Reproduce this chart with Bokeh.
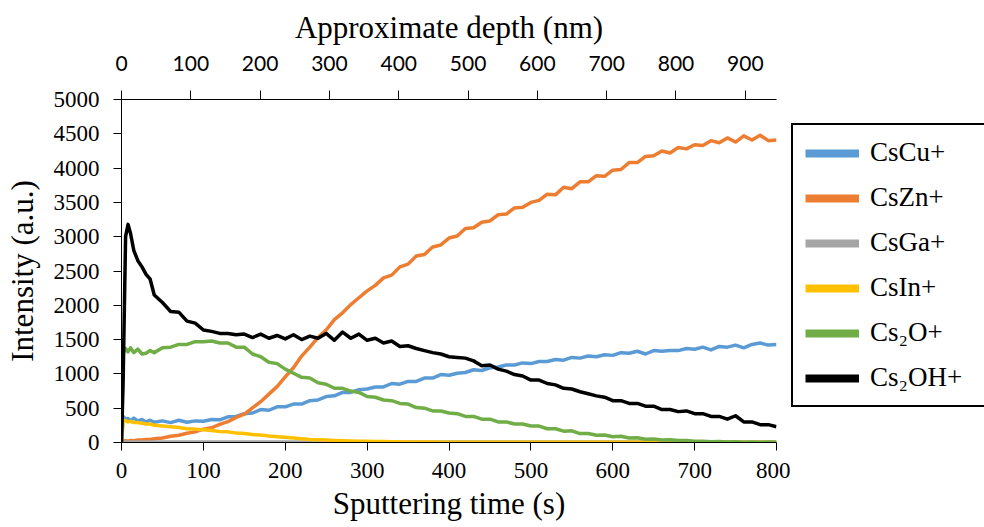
from bokeh.plotting import figure
from bokeh.layouts import row
from bokeh.models import Range1d, LinearAxis, FixedTicker, Legend, LegendItem
from bokeh.embed import file_html
from bokeh.resources import INLINE

# ---------------- data ----------------
time_s = [0, 2, 5, 8, 11, 15, 20, 25, 30, 35, 40,
          50, 60, 70, 80, 90, 100, 110, 120, 130, 140, 150, 160, 170, 180, 190,
          200, 210, 220, 230, 240, 250, 260, 270, 280, 290, 300, 310, 320, 330,
          340, 350, 360, 370, 380, 390, 400, 410, 420, 430, 440, 450, 460, 470,
          480, 490, 500, 510, 520, 530, 540, 550, 560, 570, 580, 590, 600, 610,
          620, 630, 640, 650, 660, 670, 680, 690, 700, 710, 720, 730, 740, 750,
          760, 770, 780, 790, 800]

cs_cu = [0, 380, 340, 350, 320, 355, 315, 335, 300, 325, 295,
         315, 290, 325, 295, 315, 310, 335, 330, 375, 380, 420, 430, 480, 470, 520,
         520, 560, 560, 610, 620, 670, 680, 730, 730, 770, 780, 810, 810, 860,
         850, 890, 890, 940, 940, 990, 980, 1010, 1020, 1060, 1050, 1090, 1100, 1130,
         1130, 1160, 1150, 1180, 1180, 1210, 1200, 1240, 1230, 1260, 1250, 1280, 1270, 1310,
         1300, 1330, 1290, 1340, 1330, 1340, 1340, 1370, 1360, 1390, 1350, 1400, 1390, 1420,
         1380, 1430, 1450, 1420, 1430]

cs_zn = [20, 15, 25, 20, 30, 25, 35, 35, 45, 45, 55,
         65, 90, 105, 135, 155, 195, 215, 265, 305, 365, 415, 505, 595, 705, 815,
         955, 1090, 1260, 1390, 1530, 1640, 1790, 1890, 2010, 2110, 2210, 2290, 2400, 2440,
         2560, 2600, 2720, 2740, 2850, 2880, 2980, 3010, 3120, 3130, 3210, 3230, 3320, 3330,
         3420, 3430, 3500, 3530, 3620, 3610, 3720, 3700, 3800, 3800, 3890, 3880, 3970, 3980,
         4080, 4080, 4170, 4180, 4250, 4220, 4300, 4280, 4340, 4330, 4400, 4370, 4440, 4380,
         4470, 4410, 4480, 4400, 4410]

cs_ga = [0, 8, 8, 8, 8, 8, 8, 8, 8, 8, 8,
         8, 8, 8, 8, 8, 8, 8, 8, 8, 8, 8, 8, 8, 8, 8,
         8, 8, 8, 8, 8, 8, 8, 8, 8, 8, 8, 8, 8, 8,
         8, 8, 8, 8, 8, 8, 8, 8, 8, 8, 8, 8, 8, 8,
         8, 8, 8, 8, 8, 8, 8, 8, 8, 8, 8, 8, 8, 8,
         8, 8, 8, 8, 8, 8, 8, 8, 8, 8, 8, 8, 8, 8,
         8, 8, 8, 8, 8]

cs_in = [0, 310, 320, 300, 310, 290, 290, 280, 270, 270, 250,
         240, 230, 220, 200, 195, 185, 175, 160, 155, 140, 130, 115, 110, 95, 85,
         75, 65, 55, 45, 40, 35, 30, 25, 22, 20, 18, 16, 14, 12,
         10, 9, 8, 7, 6, 5, 5, 4, 4, 4, 3, 3, 3, 3,
         3, 3, 3, 3, 3, 3, 3, 3, 3, 3, 3, 3, 3, 3,
         3, 3, 3, 3, 3, 3, 3, 3, 3, 3, 3, 3, 3, 3,
         3, 3, 3, 3, 3]

cs2_o = [0, 1300, 1370, 1320, 1380, 1310, 1360, 1290, 1300, 1340, 1310,
         1380, 1390, 1430, 1430, 1470, 1470, 1480, 1450, 1450, 1390, 1390, 1290, 1250, 1170, 1150,
         1070, 1010, 950, 940, 870, 850, 790, 790, 750, 730, 670, 660, 620, 610,
         570, 560, 510, 500, 460, 460, 430, 420, 380, 380, 340, 340, 300, 300,
         270, 270, 240, 240, 200, 200, 165, 170, 130, 130, 105, 110, 85, 90,
         65, 70, 48, 52, 38, 40, 28, 30, 18, 20, 12, 14, 8, 10,
         5, 7, 4, 6, 5]

cs2_oh = [0, 900, 3000, 3180, 3050, 2800, 2650, 2560, 2450, 2380, 2150,
          2040, 1910, 1900, 1770, 1740, 1640, 1620, 1590, 1590, 1570, 1580, 1530, 1580, 1520, 1560,
          1510, 1570, 1500, 1550, 1520, 1590, 1490, 1610, 1520, 1580, 1490, 1520, 1450, 1480,
          1400, 1410, 1370, 1340, 1310, 1290, 1250, 1240, 1230, 1190, 1120, 1130, 1070, 1040,
          990, 970, 910, 910, 860, 840, 790, 780, 740, 710, 680, 660, 610, 610,
          570, 570, 530, 530, 480, 480, 450, 460, 420, 420, 380, 380, 340, 390,
          300, 300, 260, 260, 230]

depth_ticks = [0, 100, 200, 300, 400, 500, 600, 700, 800, 900]
time_ticks = [0, 100, 200, 300, 400, 500, 600, 700, 800]
intensity_ticks = [0, 500, 1000, 1500, 2000, 2500, 3000, 3500, 4000, 4500, 5000]

series_names = ["CsCu+", "CsZn+", "CsGa+", "CsIn+", "Cs\u2082O+", "Cs\u2082OH+"]
series_values = [cs_cu, cs_zn, cs_ga, cs_in, cs2_o, cs2_oh]
series_colors = ["#5B9BD5", "#ED7D31", "#A5A5A5", "#FFC000", "#70AD47", "#000000"]

SERIF = "Liberation Serif"
TICK_SERIF = "'Liberation Serif', 'Times New Roman', serif"

p = figure(width=790, height=527, output_backend="svg", toolbar_location=None,
           x_range=Range1d(0, 800), y_range=Range1d(0, 5000),
           min_border_left=121, min_border_right=14,
           min_border_top=99, min_border_bottom=85)
p.extra_x_ranges = {"depth": Range1d(0, 945)}
p.outline_line_color = None
p.xgrid.visible = False
p.ygrid.visible = False
p.background_fill_color = "white"
p.border_fill_color = "white"

def style_axis(ax, font, size):
    ax.axis_line_color = "black"
    ax.axis_line_width = 1
    ax.major_tick_line_color = "black"
    ax.major_tick_out = 8
    ax.major_tick_in = 0
    ax.minor_tick_line_color = None
    ax.major_label_text_font = font
    ax.major_label_text_font_size = size
    ax.major_label_text_color = "black"
    ax.axis_label_text_font = SERIF
    ax.axis_label_text_font_style = "normal"
    ax.axis_label_text_font_size = "31px"
    ax.axis_label_text_color = "black"

xax = p.xaxis[0]
style_axis(xax, TICK_SERIF, "23px")
xax.ticker = FixedTicker(ticks=time_ticks)
xax.major_label_standoff = 12
xax.axis_label = "Sputtering time (s)"
xax.axis_label_standoff = 5

yax = p.yaxis[0]
style_axis(yax, TICK_SERIF, "23px")
yax.ticker = FixedTicker(ticks=intensity_ticks)
yax.major_label_standoff = 14
yax.axis_label = "Intensity (a.u.)"
yax.axis_label_standoff = 11

top = LinearAxis(x_range_name="depth")
style_axis(top, "Lato", "21px")
top.ticker = FixedTicker(ticks=depth_ticks)
top.major_tick_out = 9
top.major_label_standoff = 20
top.axis_label = "Approximate depth (nm)"
top.axis_label_standoff = 8
p.add_layout(top, "above")

for vals, col in zip(series_values, series_colors):
    p.line(time_s, vals, line_color=col, line_width=3.5, line_join="round")

# ---------------- legend in its own panel to the right ----------------
lf = figure(width=194, height=527, output_backend="svg", toolbar_location=None,
            x_range=Range1d(0, 1), y_range=Range1d(0, 1),
            x_axis_type=None, y_axis_type=None,
            min_border_left=0, min_border_right=0, min_border_top=0, min_border_bottom=0)
lf.outline_line_color = None
lf.xgrid.visible = False
lf.ygrid.visible = False
lf.background_fill_color = "white"
lf.border_fill_color = "white"

items = []
for name, col in zip(series_names, series_colors):
    r = lf.line(x=[float("nan")], y=[float("nan")], line_color=col, line_width=8)
    items.append(LegendItem(label=name, renderers=[r]))

legend = Legend(items=items, location=(1, 35), margin=0, padding=12,
                spacing=14, glyph_width=54, glyph_height=30, label_height=30,
                label_width=102, label_standoff=11, label_text_font=SERIF,
                label_text_font_size="27px", label_text_color="black",
                border_line_color="black", border_line_width=2,
                border_line_alpha=1.0,
                background_fill_color="white", background_fill_alpha=1.0)
lf.add_layout(legend)

layout = row(p, lf)
open("out.html", "w").write(file_html(layout, INLINE))
